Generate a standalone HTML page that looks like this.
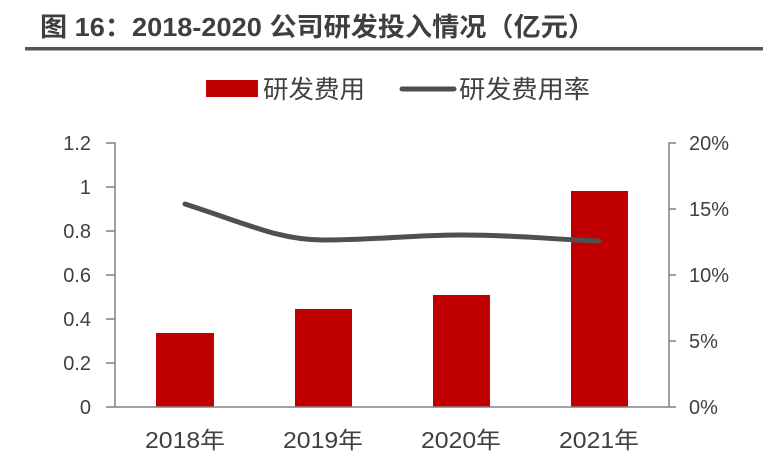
<!DOCTYPE html>
<html><head><meta charset="utf-8"><style>
body{margin:0;width:763px;height:458px;background:#fff;overflow:hidden}
svg{display:block}
text{font-family:"Liberation Sans","Noto Sans CJK SC",sans-serif}
</style></head><body>
<svg width="763" height="458" viewBox="0 0 763 458">
<text x="40" y="36" font-size="26" font-weight="bold" fill="#3f3f3f" textLength="555" lengthAdjust="spacingAndGlyphs">图 16：2018-2020 公司研发投入情况（亿元）</text>
<rect x="25" y="47" width="738" height="3.5" fill="#555"/>
<rect x="206" y="80" width="52" height="17" fill="#c00000"/>
<text x="263" y="98" font-size="25" fill="#404040" textLength="102" lengthAdjust="spacingAndGlyphs">研发费用</text>
<line x1="402" y1="89" x2="454" y2="89" stroke="#505050" stroke-width="5" stroke-linecap="round"/>
<text x="459" y="98" font-size="25" fill="#404040" textLength="131" lengthAdjust="spacingAndGlyphs">研发费用率</text>
<g fill="#c00000">
<rect x="156" y="333" width="58" height="74"/>
<rect x="295" y="309" width="57" height="98"/>
<rect x="433" y="295" width="57" height="112"/>
<rect x="571" y="191" width="57" height="216"/>
</g>
<g stroke="#808080" stroke-width="1.5" fill="none">
<path d="M106 143H115V407M106 187H115M106 231H115M106 275H115M106 319H115M106 363H115"/>
<path d="M106 407H676"/>
<path d="M676 143H669V407M676 209H669M676 275H669M676 341H669"/>
</g>
<path d="M185 204 C 250 225, 280 240, 323 240 C 380 240, 410 235, 461 235 C 520 235, 560 240, 599 241" stroke="#505050" stroke-width="5" fill="none" stroke-linecap="round"/>
<g font-size="20" fill="#404040" text-anchor="end">
<text x="91" y="150">1.2</text><text x="91" y="194">1</text><text x="91" y="238">0.8</text>
<text x="91" y="282">0.6</text><text x="91" y="326">0.4</text><text x="91" y="370">0.2</text><text x="91" y="414">0</text>
</g>
<g font-size="20" fill="#404040">
<text x="689" y="150">20%</text><text x="689" y="216">15%</text><text x="689" y="282">10%</text>
<text x="689" y="348">5%</text><text x="689" y="414">0%</text>
</g>
<g font-size="23" fill="#404040">
<text x="145" y="448" textLength="80" lengthAdjust="spacingAndGlyphs">2018年</text>
<text x="283" y="448" textLength="80" lengthAdjust="spacingAndGlyphs">2019年</text>
<text x="421" y="448" textLength="80" lengthAdjust="spacingAndGlyphs">2020年</text>
<text x="559" y="448" textLength="80" lengthAdjust="spacingAndGlyphs">2021年</text>
</g>
</svg>
</body></html>
